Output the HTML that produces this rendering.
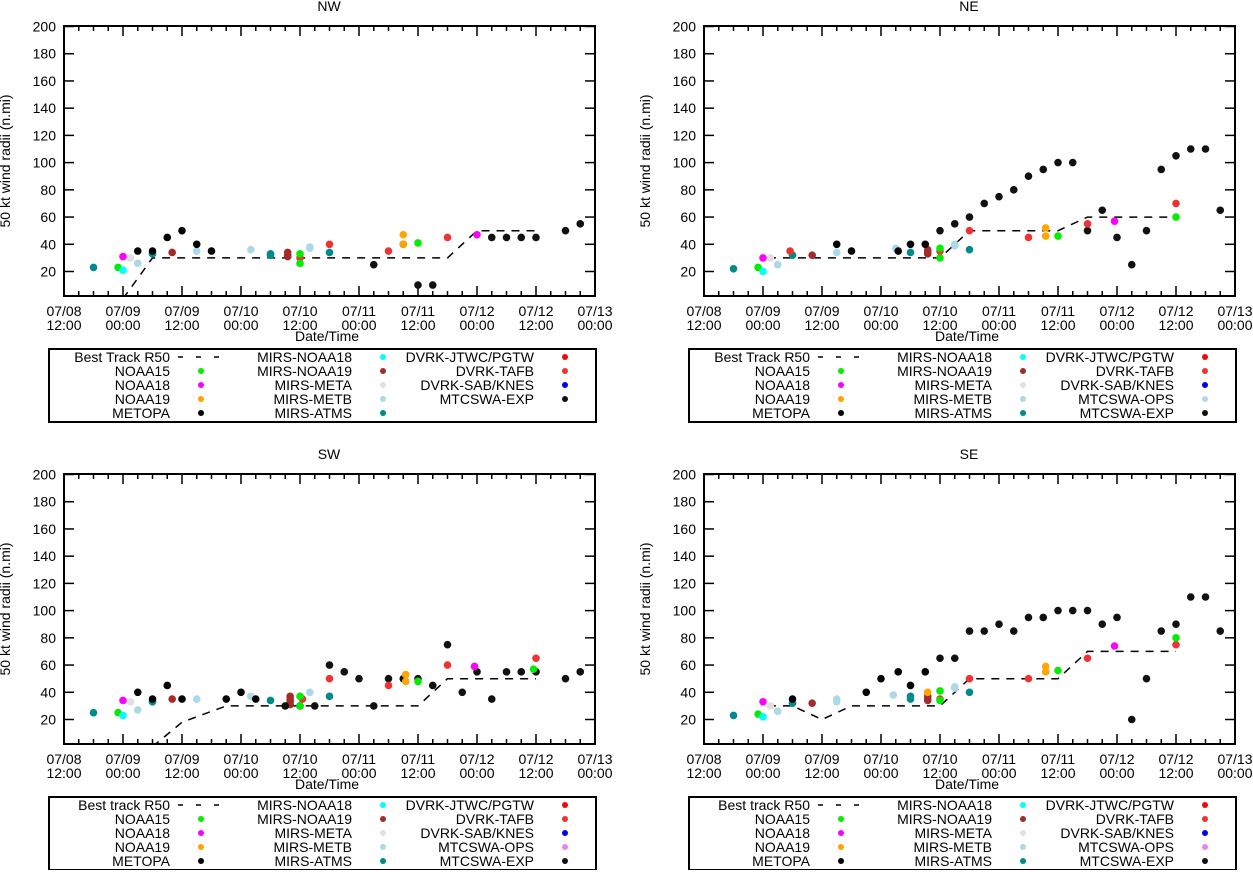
<!DOCTYPE html>
<html><head><meta charset="utf-8"><style>
html,body{margin:0;padding:0;background:#fff;}
svg text{font-family:"Liberation Sans",Arial,sans-serif;font-size:14px;fill:#000;}
</style></head><body>
<svg id="chart" xmlns="http://www.w3.org/2000/svg" width="1253" height="870" viewBox="0 0 1253 870"></svg>
<script>
// data: [hours since 07/08 12:00, radius n.mi]
const xTickLabels = [["07/08","12:00"],["07/09","00:00"],["07/09","12:00"],["07/10","00:00"],["07/10","12:00"],["07/11","00:00"],["07/11","12:00"],["07/12","00:00"],["07/12","12:00"],["07/13","00:00"]];
const yTicks = [20,40,60,80,100,120,140,160,180,200];

const nwBest = [[12,0],[18,30],[78,30],[84,50],[96,50]];
const neBest = [[13,30],[48,30],[54,50],[72,50],[78,60],[96,60]];
const swBest = [[18,0],[24,18],[33,30],[72,30],[78,50],[96,50]];
const seBest = [[13,30],[18,30],[24,20],[30,30],[48,30],[54,50],[72,50],[78,70],[96,70]];

const nwNoaa15 = [[11,23],[48,33],[48,26],[72,41]];
const nwNoaa18 = [[12,31],[84,47]];
const nwNoaa19 = [[69,47],[69,40]];
const nwMetopa = [[15,35],[18,35],[21,45],[24,50],[27,40],[30,35]];
const nwMirsN18 = [[12,21]];
const nwMirsN19 = [[22,34],[45.5,34],[45.5,32],[45.5,31]];
const nwMirsMeta = [[13.5,30]];
const nwMirsMetb = [[15,26],[27,35],[38,36],[50,37],[50,38]];
const nwMirsAtms = [[6,23],[18,33],[42,32],[42,33],[54,34]];
const nwTafb = [[48,30],[54,40],[66,35],[78,45]];
const nwExp = [[63,25],[69,40],[72,10],[75,10],[87,45],[90,45],[93,45],[96,45],[102,50],[105,55]];

const neNoaa15 = [[11,23],[48,37],[48,30],[72,46],[96,60]];
const neNoaa18 = [[12,30],[83.5,57]];
const neNoaa19 = [[69.5,52],[69.5,46]];
const neMetopa = [[27,40],[30,35],[39.5,35],[42,40],[45,40]];
const neMirsN18 = [[12,20]];
const neMirsN19 = [[22,32],[45.5,36],[45.5,34],[45.5,33]];
const neMirsMeta = [[13.5,30]];
const neMirsMetb = [[15,25],[27,34],[39,37],[51,39],[51,40]];
const neMirsAtms = [[6,22],[18,32],[42,34],[54,36]];
const neTafb = [[17.5,35],[48,35],[54,50],[66,45],[78,55],[96,70]];
const neExp = [[48,50],[51,55],[54,60],[57,70],[60,75],[63,80],[66,90],[69,95],[72,100],[75,100],[78,50],[81,65],[84,45],[87,25],[90,50],[93,95],[96,105],[99,110],[102,110],[105,65]];

const swNoaa15 = [[11,25],[48,37],[48,30],[72,48],[95.5,57]];
const swNoaa18 = [[12,34],[83.5,59]];
const swNoaa19 = [[69.5,53],[69.5,48]];
const swMetopa = [[15,40],[18,35],[21,45],[24,35],[33,35],[36,40],[39,35]];
const swMirsN18 = [[12,23]];
const swMirsN19 = [[22,35],[46,37],[46,35],[46,33],[46,31]];
const swMirsMeta = [[13.5,33]];
const swMirsMetb = [[15,27],[27,35],[38,37],[50,40]];
const swMirsAtms = [[6,25],[18,33],[42,34],[54,37]];
const swTafb = [[48.5,35],[54,50],[66,45],[78,60],[96,65]];
const swExp = [[45,30],[48,30],[51,30],[54,60],[57,55],[60,50],[63,30],[66,50],[69,50],[72,50],[75,45],[78,75],[81,40],[84,55],[87,35],[90,55],[93,55],[96,55],[102,50],[105,55]];

const seNoaa15 = [[11,24],[48,41],[48,34],[72,56],[96,80]];
const seNoaa18 = [[12,33],[83.5,74]];
const seNoaa19 = [[45.5,40],[69.5,59],[69.5,55]];
const seMetopa = [[18,35],[33,40],[36,50],[39.5,55],[42,45],[45,55]];
const seMirsN18 = [[12,22]];
const seMirsN19 = [[22,32],[45.5,37],[45.5,35],[45.5,34]];
const seMirsMeta = [[13.5,30]];
const seMirsMetb = [[15,26],[27,33],[27,35],[38.5,38],[51,43],[51,44]];
const seMirsAtms = [[6,23],[18,32],[42,37],[42,35],[54,40]];
const seTafb = [[48,35],[54,50],[66,50],[78,65],[96,75]];
const seExp = [[48,65],[51,65],[54,85],[57,85],[60,90],[63,85],[66,95],[69,95],[72,100],[75,100],[78,100],[81,90],[84,95],[87,20],[90,50],[93,85],[96,90],[99,110],[102,110],[105,85]];

const COLORS = {noaa15:"#00ee00",noaa18:"#ff00ff",noaa19:"#ffa500",metopa:"#000000",mirsN18:"#00ffff",mirsN19:"#a52a2a",mirsMeta:"#e0e0e0",mirsMetb:"#add8e6",mirsAtms:"#008b8b",jtwc:"#ff0000",tafb:"#f03232",sab:"#0000ff",ops:"#ee82ee",exp:"#111111"};

const panels = [
 {name:"NW",ox:0,oy:0,best:nwBest,bestLabel:"Best Track R50",ops:false,series:[["mirsMeta",nwMirsMeta],["mirsMetb",nwMirsMetb],["mirsAtms",nwMirsAtms],["mirsN19",nwMirsN19],["metopa",nwMetopa],["exp",nwExp],["tafb",nwTafb],["noaa19",nwNoaa19],["noaa15",nwNoaa15],["mirsN18",nwMirsN18],["noaa18",nwNoaa18]]},
 {name:"NE",ox:640,oy:0,best:neBest,bestLabel:"Best Track R50",ops:true,opsColor:"#add8e6",series:[["mirsMeta",neMirsMeta],["mirsMetb",neMirsMetb],["mirsAtms",neMirsAtms],["mirsN19",neMirsN19],["metopa",neMetopa],["exp",neExp],["tafb",neTafb],["noaa19",neNoaa19],["noaa15",neNoaa15],["mirsN18",neMirsN18],["noaa18",neNoaa18]]},
 {name:"SW",ox:0,oy:448,best:swBest,bestLabel:"Best track R50",ops:true,opsColor:"#ee82ee",series:[["mirsMeta",swMirsMeta],["mirsMetb",swMirsMetb],["mirsAtms",swMirsAtms],["mirsN19",swMirsN19],["metopa",swMetopa],["exp",swExp],["tafb",swTafb],["noaa19",swNoaa19],["noaa15",swNoaa15],["mirsN18",swMirsN18],["noaa18",swNoaa18]]},
 {name:"SE",ox:640,oy:448,best:seBest,bestLabel:"Best track R50",ops:true,opsColor:"#ee82ee",series:[["mirsMeta",seMirsMeta],["mirsMetb",seMirsMetb],["mirsAtms",seMirsAtms],["mirsN19",seMirsN19],["metopa",seMetopa],["exp",seExp],["tafb",seTafb],["noaa19",seNoaa19],["noaa15",seNoaa15],["mirsN18",seMirsN18],["noaa18",seNoaa18]]}
];

const NS="http://www.w3.org/2000/svg";
const svg=document.getElementById("chart");
function mk(tag,attrs,parent){const e=document.createElementNS(NS,tag);for(const k in attrs)e.setAttribute(k,attrs[k]);(parent||svg).appendChild(e);return e;}
const L=64,R=595,T=26,B=296;
function xs(h,p){return p.ox+L+h*(R-L)/108;}
function ys(v,p){return p.oy+T+0.5+(200-v)*245/180;}

panels.forEach((p,pi)=>{
  const g=mk("g",{});
  
  
  const t=mk("text",{x:p.ox+329,y:p.oy+11,"text-anchor":"middle"},g);t.textContent=p.name;
  
  
  const cp=mk("clipPath",{id:"clip"+pi},g);
  mk("rect",{x:p.ox+L,y:p.oy+T,width:R-L,height:B-T},cp);
  for(let i=0;i<=36;i++){
    const x=p.ox+L+i*(R-L)/36;const len=(i%4==0)?10:5;
    mk("line",{x1:x,y1:p.oy+B,x2:x,y2:p.oy+B-len,stroke:"#000","stroke-width":1.5},g);
    mk("line",{x1:x,y1:p.oy+T,x2:x,y2:p.oy+T+len,stroke:"#000","stroke-width":1.5},g);
  }
  xTickLabels.forEach((lab,i)=>{
    const x=xs(i*12,p);
    const tx=mk("text",{x:x,y:p.oy+316,"text-anchor":"middle"},g);tx.textContent=lab[0];
    
    
    const tx2=mk("text",{x:x,y:p.oy+330,"text-anchor":"middle"},g);tx2.textContent=lab[1];
    
    
  });
  yTicks.forEach(v=>{
    const y=ys(v,p);
    mk("line",{x1:p.ox+L,y1:y,x2:p.ox+L+10,y2:y,stroke:"#000","stroke-width":1.5},g);
    mk("line",{x1:p.ox+R,y1:y,x2:p.ox+R-10,y2:y,stroke:"#000","stroke-width":1.5},g);
    const ty=mk("text",{x:p.ox+56,y:y+5,"text-anchor":"end"},g);ty.textContent=v;
    
    
  });
  const xt=mk("text",{x:p.ox+327,y:p.oy+341,"text-anchor":"middle"},g);xt.textContent="Date/Time";
  
  
  const yt=mk("text",{x:0,y:0,"text-anchor":"middle",transform:"translate("+(p.ox+10)+","+(p.oy+161)+") rotate(-90)"},g);yt.textContent="50 kt wind radii (n.mi)";
  
  
  const pts=p.best.map(d=>xs(d[0],p).toFixed(1)+","+ys(d[1],p).toFixed(1)).join(" ");
  const bl=mk("polyline",{points:pts,fill:"none",stroke:"#000","stroke-width":1.5,"stroke-dasharray":"8,7","clip-path":"url(#clip"+pi+")"},g);
  
  
  p.series.forEach(s=>{
    s[1].forEach(d=>{
      const c=mk("circle",{cx:xs(d[0],p),cy:ys(d[1],p),r:3.8,fill:COLORS[s[0]]},g);
      
      
    });
  });
  mk("rect",{x:p.ox+L,y:p.oy+T,width:R-L,height:B-T,fill:"none",stroke:"#000","stroke-width":2},g);
  const lg=mk("g",{},g);
  
  
  mk("rect",{x:p.ox+49,y:p.oy+349,width:547,height:73,fill:"none",stroke:"#000","stroke-width":2},lg);
  const col3=p.ops?[["DVRK-JTWC/PGTW",COLORS.jtwc],["DVRK-TAFB",COLORS.tafb],["DVRK-SAB/KNES",COLORS.sab],["MTCSWA-OPS",p.opsColor],["MTCSWA-EXP",COLORS.exp]]:[["DVRK-JTWC/PGTW",COLORS.jtwc],["DVRK-TAFB",COLORS.tafb],["DVRK-SAB/KNES",COLORS.sab],["MTCSWA-EXP",COLORS.exp]];
  const cols=[
    {tx:170,sx:201,items:[[p.bestLabel,null],["NOAA15",COLORS.noaa15],["NOAA18",COLORS.noaa18],["NOAA19",COLORS.noaa19],["METOPA",COLORS.metopa]]},
    {tx:352,sx:383,items:[["MIRS-NOAA18",COLORS.mirsN18],["MIRS-NOAA19",COLORS.mirsN19],["MIRS-META",COLORS.mirsMeta],["MIRS-METB",COLORS.mirsMetb],["MIRS-ATMS",COLORS.mirsAtms]]},
    {tx:534,sx:565,items:col3}
  ];
  cols.forEach(col=>{
    col.items.forEach((it,i)=>{
      const y=p.oy+357+i*14;
      const lt=mk("text",{x:p.ox+col.tx,y:y+5,"text-anchor":"end"},lg);lt.textContent=it[0];
      
      
      if(it[1]===null){
        mk("line",{x1:p.ox+178,y1:y,x2:p.ox+220,y2:y,stroke:"#000","stroke-width":1.5,"stroke-dasharray":"5,13"},lg);
      }else{
        mk("circle",{cx:p.ox+col.sx,cy:y,r:3,fill:it[1]},lg);
      }
    });
  });
});
</script>
</body></html>
